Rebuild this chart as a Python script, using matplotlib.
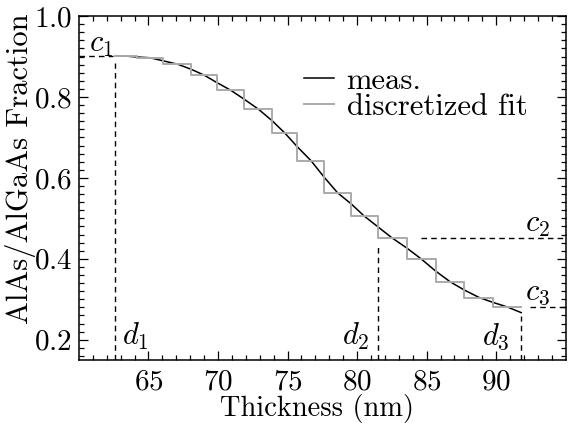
import matplotlib
matplotlib.use("Agg")
import matplotlib.pyplot as plt

thick = [62.6, 63.4, 64.1, 65.1, 66.1, 67.1, 68.1, 69.0, 69.9, 70.9, 71.9,
         72.9, 73.9, 74.8, 75.7, 76.7, 77.6, 78.6, 79.6, 80.5, 81.5, 82.5,
         83.6, 84.6, 85.6, 86.7, 87.7, 88.8, 89.8, 90.8, 91.8]
frac = [0.902, 0.901, 0.899, 0.897, 0.889, 0.881, 0.868, 0.854, 0.836, 0.817,
        0.794, 0.770, 0.741, 0.711, 0.677, 0.642, 0.603, 0.563, 0.535, 0.506,
        0.479, 0.452, 0.426, 0.400, 0.371, 0.343, 0.323, 0.304, 0.292, 0.281,
        0.267]

# discretized fit: layer edges and levels
edges = [62.57, 64.14, 66.07, 68.07, 69.93, 71.86, 73.86, 75.71, 77.64,
         79.57, 81.5, 83.57, 85.64, 87.71, 89.79, 91.79]
levels = [0.901, 0.897, 0.881, 0.854, 0.817, 0.770, 0.711, 0.642, 0.563,
          0.506, 0.452, 0.400, 0.343, 0.304, 0.281]

# markers d_i / c_i
d = [62.57, 81.5, 91.8]
c = [0.901, 0.452, 0.281]

plt.rcParams['font.family'] = 'cmr10'
plt.rcParams['mathtext.fontset'] = 'cm'
plt.rcParams['axes.formatter.use_mathtext'] = True

fig = plt.figure(figsize=(5.68, 4.23), dpi=100)
ax = fig.add_axes([0.139, 0.149, 0.857, 0.813])

ax.plot(thick, frac, color='black', lw=1.1, label='meas.')
ax.step(edges, levels + [levels[-1]], where='post', color='#aaaaaa', lw=1.4,
        label='discretized fit')

dash = dict(color='black', lw=1.0, ls=(0, (4, 3)))
# c1 / d1
ax.plot([60, d[0] - 0.15], [c[0], c[0]], **dash)
ax.plot([d[0], d[0]], [0.15, c[0] - 0.017], **dash)
# c2 / d2
ax.plot([84.6, 95], [c[1], c[1]], **dash)
ax.plot([d[1], d[1]], [0.15, c[1] - 0.017], **dash)
# c3 / d3
ax.plot([92.4, 95], [c[2], c[2]], **dash)
ax.plot([d[2], d[2]], [0.15, 0.258], **dash)

lab = dict(fontsize=22)
ax.text(60.75, 0.911, '$c_1$', **lab)
ax.text(63.1, 0.188, '$d_1$', **lab)
ax.text(78.9, 0.188, '$d_2$', **lab)
ax.text(89.0, 0.188, '$d_3$', **lab)
ax.text(92.05, 0.467, '$c_2$', **lab)
ax.text(92.1, 0.299, '$c_3$', **lab)

ax.set_xlim(60, 95)
ax.set_ylim(0.15, 1.0)
ax.set_xticks([65, 70, 75, 80, 85, 90])
ax.set_yticks([0.2, 0.4, 0.6, 0.8, 1.0])
ax.set_xticks(range(61, 95), minor=True)
ax.set_yticks([0.16 + 0.02 * i for i in range(43)], minor=True)
ax.tick_params(which='both', direction='in', top=True, right=True, width=0.9)
ax.tick_params(which='major', length=6.5, labelsize=21)
ax.tick_params(axis='x', which='major', pad=6.5)
ax.tick_params(axis='y', which='major', pad=5)
ax.tick_params(which='minor', length=3.5)
for s in ax.spines.values():
    s.set_linewidth(1.1)

ax.set_xlabel('Thickness (nm)', fontsize=20.5)
ax.set_ylabel('AlAs/AlGaAs Fraction', fontsize=22)
ax.xaxis.set_label_coords(0.489, -0.1)
ax.yaxis.set_label_coords(-0.088, 0.555)

ax.legend(loc='upper left', bbox_to_anchor=(0.462, 0.85), frameon=False,
          fontsize=22, handlelength=1.0, handletextpad=0.4,
          labelspacing=-0.05, borderpad=0, borderaxespad=0)

fig.savefig('out.png', dpi=100)
